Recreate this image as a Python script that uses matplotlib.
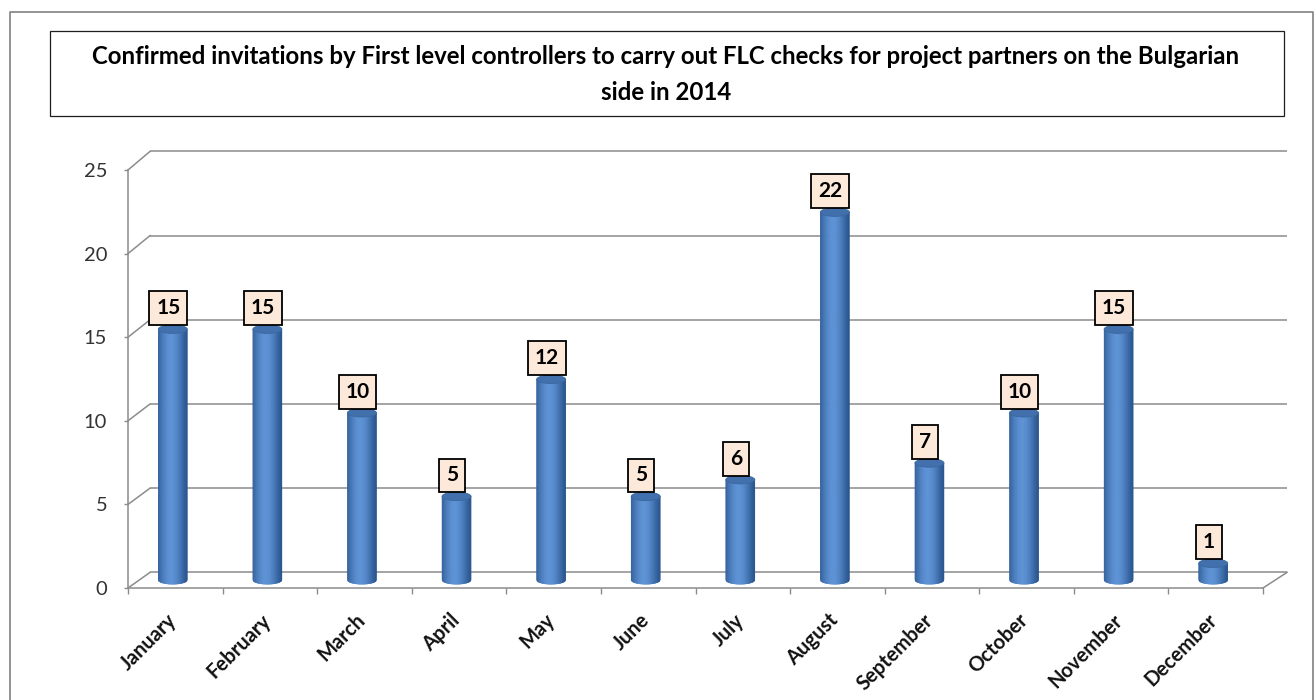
import numpy as np
import matplotlib
matplotlib.use('Agg')
import matplotlib.pyplot as plt
from matplotlib.transforms import ScaledTranslation
from matplotlib.patches import Rectangle, Ellipse
from matplotlib.lines import Line2D
from matplotlib.collections import PolyCollection
from matplotlib.colors import to_rgb

months = ['January', 'February', 'March', 'April', 'May', 'June', 'July',
          'August', 'September', 'October', 'November', 'December']
values = [15, 15, 10, 5, 12, 5, 6, 22, 7, 10, 15, 1]
y_ticks = [0, 5, 10, 15, 20, 25]
title_line1 = ('Confirmed invitations by First level controllers to carry out FLC checks '
               'for project partners on the Bulgarian')
title_line2 = 'side in 2014'

W, H, DPI = 1316, 700, 100
plt.rcParams['font.family'] = ['Lato', 'DejaVu Sans']
fig = plt.figure(figsize=(W / DPI, H / DPI), dpi=DPI)
fig.patch.set_facecolor('white')

GRID = '#8c8c8c'

# outer chart frame
fig.add_artist(Line2D([10 / W, 10 / W, 1313 / W, 1313 / W], [0, 1 - 12 / H, 1 - 12 / H, 0],
                      transform=fig.transFigure, color='#8a8a8a', lw=1.3))
# title box
fig.add_artist(Rectangle((50 / W, 1 - 116 / H), (1284 - 50) / W, (116 - 31) / H,
                         transform=fig.transFigure, fill=False, ec='#1e1e1e', lw=0.9))
fig.text(666 / W, 1 - 57 / H, title_line1, ha='center', va='center',
         fontsize=17.3, fontweight='bold', color='black')
fig.text(666 / W, 1 - 92 / H, title_line2, ha='center', va='center',
         fontsize=17.3, fontweight='bold', color='black')

# axes = front plane of the 3D box
L, R, B, T = 128, 1263, 588, 170
ax = fig.add_axes([L / W, 1 - B / H, (R - L) / W, (B - T) / H])
ax.set_xlim(0, 12)
ax.set_ylim(0, 25)
for s in ax.spines.values():
    s.set_visible(False)
ax.patch.set_visible(False)

ppx = (R - L) / 12.0
ppy = (B - T) / 25.0
DXL, DXR = 22 / ppx, 24 / ppx
DY = 15.6 / ppy
K = 16.87 / 16.75

# back wall gridlines + left wall diagonals
for v in y_ticks:
    ax.plot([DXL, 12 + DXR], [v * K + DY, v * K + DY], color=GRID, lw=1.1,
            clip_on=False, zorder=1, solid_capstyle='butt')
    ax.plot([0, DXL], [v, v * K + DY], color=GRID, lw=1.1, clip_on=False, zorder=1)
# floor right diagonal, front floor edge, front vertical axis
ax.plot([12, 12 + DXR], [0, DY], color=GRID, lw=1.1, clip_on=False, zorder=1)
ax.plot([0, 12], [0, 0], color=GRID, lw=1.1, clip_on=False, zorder=1)
ax.plot([0, 0], [0, 25], color=GRID, lw=1.1, clip_on=False, zorder=1)

# cylinders
bx, by = -2.5 / ppx, 8 / ppy
a, b = 14.5 / ppx, 4.2 / ppy
dark = np.array(to_rgb('#2a5690'))
light = np.array(to_rgb('#5d92d5'))
N = 48
edges = np.linspace(-a, a, N + 1)
for i, v in enumerate(values):
    xc = i + 0.5 + bx
    polys, cols = [], []
    for j in range(N):
        u0, u1 = edges[j], edges[j + 1]
        um = 0.5 * (u0 + u1) / a
        y0 = by - b * np.sqrt(max(0.0, 1 - (u0 / a) ** 2))
        y1 = by - b * np.sqrt(max(0.0, 1 - (u1 / a) ** 2))
        polys.append([(xc + u0, by + v), (xc + u1, by + v), (xc + u1, y1), (xc + u0, y0)])
        t = np.clip(np.cos(np.pi / 2 * (um + 0.1) / 1.1), 0, 1) ** 1.3
        cols.append(dark + (light - dark) * t)
    pc = PolyCollection(polys, facecolors=cols, edgecolors=cols, linewidths=0.4,
                        clip_on=False, zorder=3)
    ax.add_collection(pc)
    ax.add_patch(Ellipse((xc, by + v), 2 * a, 2 * b, fc='#4170ad', ec='#3a679f', lw=0.6,
                         clip_on=False, zorder=4))
    ax.annotate(str(v), xy=(i + 0.5, v), xytext=(-7, 19), textcoords='offset pixels',
                ha='center', va='bottom', fontsize=15, fontweight='bold', color='black',
                zorder=6, annotation_clip=False,
                bbox=dict(boxstyle='square,pad=0.33', fc='#fde9d9', ec='black', lw=1.3))

# y axis ticks
ax.set_yticks(y_ticks)
ax.set_yticklabels([str(t) for t in y_ticks])
ax.tick_params(axis='y', direction='out', length=3, width=1, color=GRID,
               labelsize=14.5, labelcolor='#333333', pad=12)

# x axis: boundary ticks (major) + centered labels (minor)
ax.set_xticks(np.arange(0, 13))
ax.set_xticklabels([])
ax.tick_params(axis='x', which='major', direction='out', length=4.5, width=1, color=GRID)
ax.set_xticks(np.arange(12) + 0.5, minor=True)
ax.set_xticklabels(months, minor=True)
ax.tick_params(axis='x', which='minor', length=0, pad=21, labelsize=14.5)
for lab in ax.get_xticklabels(minor=True):
    lab.set_rotation(45)
    lab.set_rotation_mode('anchor')
    lab.set_ha('right')
    lab.set_va('center')
    lab.set_fontweight('bold')
    lab.set_color('#111111')
    lab.set_transform(lab.get_transform() + ScaledTranslation(-2 / DPI, 0, fig.dpi_scale_trans))

fig.savefig('out.png', dpi=DPI, facecolor='white')
